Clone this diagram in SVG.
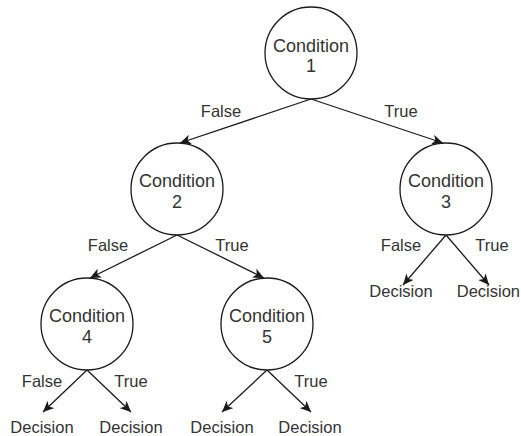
<svg xmlns="http://www.w3.org/2000/svg" width="521" height="436" viewBox="0 0 521 436">
<defs>
<style>
.node circle{fill:#fff;stroke:#1a1a1a;stroke-width:1.3}
text{font-family:"Liberation Sans",Arial,sans-serif;font-size:16.5px;fill:#333;text-anchor:middle}
.node text{font-size:18px}
.edge{stroke:#1a1a1a;stroke-width:1.3;fill:none;marker-end:url(#arr)}
</style>
<marker id="arr" markerUnits="userSpaceOnUse" markerWidth="12" markerHeight="10" refX="11" refY="5" orient="auto" viewBox="0 0 12 10">
<path d="M0,0 L11,5 L0,10 L3,5 z" fill="#1a1a1a"/>
</marker>
</defs>
<rect width="521" height="436" fill="#fff"/>
<g id="connectors">
<line class="edge" x1="311" y1="99" x2="180" y2="143"/>
<line class="edge" x1="311" y1="99" x2="443" y2="143"/>
<line class="edge" x1="177" y1="235" x2="90" y2="278"/>
<line class="edge" x1="177" y1="235" x2="264" y2="278"/>
<line class="edge" x1="446" y1="235" x2="403" y2="285"/>
<line class="edge" x1="446" y1="235" x2="489" y2="285"/>
<line class="edge" x1="87" y1="370" x2="43" y2="412"/>
<line class="edge" x1="87" y1="370" x2="131" y2="412"/>
<line class="edge" x1="267" y1="370" x2="222" y2="412"/>
<line class="edge" x1="267" y1="370" x2="311" y2="412"/>
<text x="221" y="117">False</text>
<text x="401" y="117">True</text>
<text x="108" y="251">False</text>
<text x="232" y="251">True</text>
<text x="401" y="251">False</text>
<text x="492" y="251">True</text>
<text x="42" y="387">False</text>
<text x="131" y="387">True</text>
<text x="311" y="387">True</text>
</g>
<g id="c1" class="node"><circle cx="311" cy="53" r="46"/><text x="311" y="52">Condition</text><text x="311" y="72">1</text></g>
<g id="c2" class="node"><circle cx="177" cy="189" r="46"/><text x="177" y="187">Condition</text><text x="177" y="208">2</text></g>
<g id="c3" class="node"><circle cx="446" cy="189" r="46"/><text x="446" y="187">Condition</text><text x="446" y="208">3</text></g>
<g id="c4" class="node"><circle cx="87" cy="324" r="46"/><text x="87" y="322">Condition</text><text x="87" y="343">4</text></g>
<g id="c5" class="node"><circle cx="267" cy="324" r="46"/><text x="267" y="322">Condition</text><text x="267" y="343">5</text></g>
<g id="d1"><text x="401" y="297">Decision</text></g>
<g id="d2"><text x="520" y="297" style="text-anchor:end">Decision</text></g>
<g id="d3"><text x="42" y="433">Decision</text></g>
<g id="d4"><text x="131" y="433">Decision</text></g>
<g id="d5"><text x="222" y="433">Decision</text></g>
<g id="d6"><text x="310" y="433">Decision</text></g>
</svg>
